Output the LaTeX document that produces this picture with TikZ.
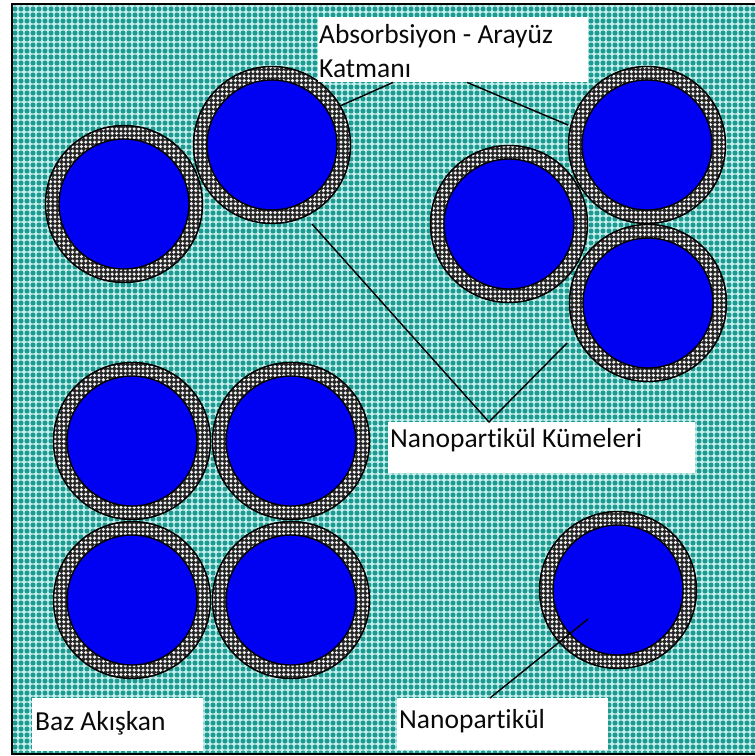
\documentclass[tikz,border=0pt]{standalone}
\usepackage{fontspec}
\setmainfont{Carlito}[Ligatures=NoCommon]
\usetikzlibrary{patterns,calc}
\definecolor{fluidbg}{HTML}{C4EEEA}
\definecolor{fluiddot}{HTML}{1D9A92}
\definecolor{ringwhite}{HTML}{F0F0F0}
\definecolor{coreblue}{HTML}{0000F2}
\definecolor{txt}{HTML}{0A0A0A}
\pgfdeclarepatternformonly{tealdots}{\pgfpoint{-1pt}{-1pt}}{\pgfpoint{7pt}{7pt}}{\pgfpoint{6pt}{6pt}}{\pgfpathcircle{\pgfpoint{3pt}{3pt}}{2.55pt}\pgfusepath{fill}}
\pgfdeclarepatternformonly{ringdots}{\pgfpoint{-1pt}{-1pt}}{\pgfpoint{5.5pt}{5.5pt}}{\pgfpoint{4.4pt}{4.4pt}}{\pgfpathcircle{\pgfpoint{2.2pt}{2.2pt}}{1.7pt}\pgfusepath{fill}}
\tikzset{
  core/.style={circle, fill=coreblue, draw=black, line width=1.4pt, minimum size=130pt, inner sep=0pt},
  labelbox/.style={fill=white, draw=none, inner sep=0pt, anchor=north west},
  labeltext/.style={anchor=base west, inner sep=0pt, text=txt, font=\fontsize{27.5}{34}\selectfont},
  leader/.style={draw=black, line width=1.4pt},
}
\newcommand\nanop[3]{%
  \fill[black!85] (#2,#3) circle[radius=79pt];
  \fill[pattern=ringdots, pattern color=ringwhite] (#2,#3) circle[radius=78pt];
  \draw[line width=1.4pt] (#2,#3) circle[radius=78.5pt];
  \node[core] (#1) at (#2,#3) {};
}
\begin{document}
\begin{tikzpicture}[x=1pt, y=-1pt]
\useasboundingbox (0,0) rectangle (755,756);
\fill[white] (0,0) rectangle (755,756);
% base fluid
\fill[fluidbg] (12,4) rectangle (757,754);
\fill[pattern=tealdots, pattern color=fluiddot] (12,4) rectangle (757,754);
\draw[line width=2.2pt] (758,4) -- (12,4) -- (12,754) -- (758,754);
% particles
\nanop{pa}{124}{204}
\nanop{pb}{272}{145}
\nanop{pc}{647}{145}
\nanop{pd}{509}{224}
\nanop{pe}{648}{303}
\nanop{qa}{132}{441}
\nanop{qb}{291}{441}
\nanop{qc}{132}{600}
\nanop{qd}{291}{600}
\nanop{sp}{618}{590}
% label boxes
\node[labelbox, minimum width=270pt, minimum height=65pt] (absbox) at (318,17) {};
\node[labeltext] (abs1) at (319,43) {Absorbsiyon - Arayüz};
\node[labeltext] (abs2) at (319,77) {Katmanı};
\node[labelbox, minimum width=307pt, minimum height=51pt] (kumbox) at (388,422) {};
\node[labeltext] (kum) at (390,447) {Nanopartikül Kümeleri};
\node[labelbox, minimum width=171pt, minimum height=53pt] (bazbox) at (32,698) {};
\node[labeltext] (baz) at (35,730) {Baz Akışkan};
\node[labelbox, minimum width=211pt, minimum height=52pt] (npbox) at (397,698) {};
\node[labeltext] (np) at (399,728) {Nanopartikül};
% connector ends
\coordinate (a1) at ($(absbox.south west)+(75,0)$);
\coordinate (a2) at ($(absbox.south west)+(149,0)$);
\coordinate (r1) at (340,106);
\coordinate (r2) at (568,125);
\coordinate (kv) at ($(kumbox.north west)+(101,0)$);
\coordinate (k1) at (312,224);
\coordinate (k2) at (567,343);
\coordinate (nv) at ($(npbox.north west)+(93,0)$);
\coordinate (n1) at ($(sp)+(-30,29)$);
% connectors
\draw[leader] (a1) -- (r1);
\draw[leader] (a2) -- (r2);
\draw[leader] (k1) -- (kv) -- (k2);
\draw[leader] (n1) -- (nv);
\end{tikzpicture}
\end{document}
